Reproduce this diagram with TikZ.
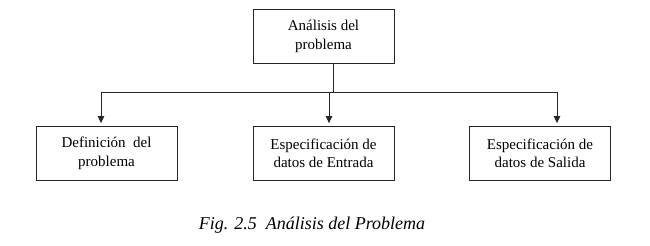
\documentclass[tikz,border=0pt]{standalone}
\usepackage{fontspec}
\setmainfont{Liberation Serif}
\usetikzlibrary{positioning,arrows.meta}
\tikzset{
  flowline/.style={line width=0.8pt, draw=black!85},
  flowarrow/.style={flowline, -{Triangle[length=7pt,width=6.5pt]}, shorten >=3pt},
  stepbox/.style={draw=black!85, line width=0.8pt, minimum width=141pt, minimum height=54pt, inner sep=0pt, align=center, font=\fontsize{15}{18.5}\selectfont},
  figcaption/.style={font=\fontsize{18}{20}\selectfont\itshape}
}

\begin{document}
\begin{tikzpicture}[x=1pt, y=-1pt]
  \useasboundingbox (0,0) rectangle (650,246);
  \node[stepbox] (analisis) at (323.5,36.5) {Análisis del\\problema};
  \node[stepbox] (definicion) at (106.5,153.5) {Definición\ \ del\\problema};
  \node[stepbox] (entrada) at (323.5,153.5) {Especificación de\\datos de Entrada};
  \node[stepbox] (salida) at (540,153.5) {Especificación de\\datos de Salida};
  \coordinate (split) at ([xshift=9.5pt]analisis.south |- 0,92.5);
  \draw[flowline] ([xshift=9.5pt]analisis.south) -- (split);
  \draw[flowarrow] (split) -| ([xshift=-5.5pt]definicion.north);
  \draw[flowarrow] (split) -| ([xshift=17pt]salida.north);
  \draw[flowarrow] ([xshift=5.5pt]entrada.north |- split) -- ([xshift=5.5pt]entrada.north);
  \node[figcaption] (caption) at (312,225) {Fig. 2.5\ \ Análisis del Problema};
\end{tikzpicture}
\end{document}
